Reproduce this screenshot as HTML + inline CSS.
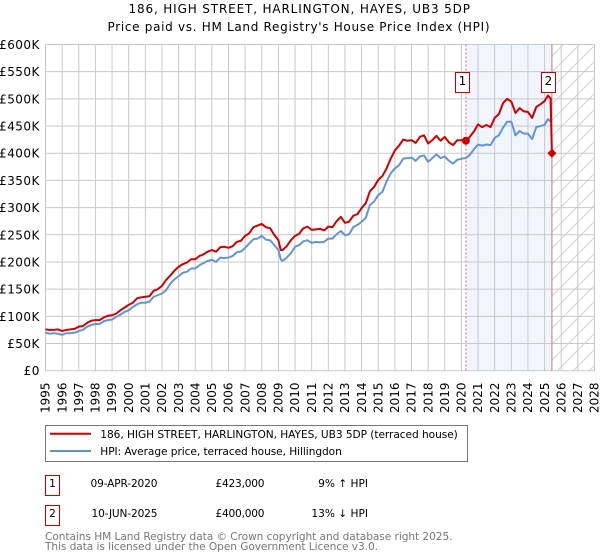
<!DOCTYPE html>
<html>
<head>
<meta charset="utf-8">
<title>186, HIGH STREET, HARLINGTON, HAYES, UB3 5DP</title>
<style>
html,body{margin:0;padding:0;background:#fff;}
svg{display:block;font-family:"DejaVu Sans","Liberation Sans",sans-serif;}
text{fill:#000;}
</style>
</head>
<body>
<svg id="chart" width="600" height="560" viewBox="0 0 600 560" xmlns="http://www.w3.org/2000/svg">
<defs>
<pattern id="hatch" patternUnits="userSpaceOnUse" width="16" height="16">
<path d="M-2 2L2 -2M0 16L16 0M14 18L18 14" stroke="#d2d2d2" stroke-width="1" fill="none"/>
</pattern>
</defs>
<rect width="600" height="560" fill="#fff"/>
<text x="128.5" y="13" font-size="12" textLength="341.5" lengthAdjust="spacing">186, HIGH STREET, HARLINGTON, HAYES, UB3 5DP</text>
<text x="107.5" y="31" font-size="12" textLength="382" lengthAdjust="spacing">Price paid vs. HM Land Registry's House Price Index (HPI)</text>
<g id="bands"></g>
<g id="grid"></g>
<g id="saleLines"></g>
<g id="series"></g>
<g id="markers"></g>
<g id="yLabels"></g>
<g id="xLabels"></g>
<g id="annotations"></g>

<g>
<rect x="45.5" y="425.5" width="422" height="36" fill="#fff" stroke="#777" stroke-width="1"/>
<line x1="50" x2="91" y1="433.7" y2="433.7" stroke="#cc0000" stroke-width="2"/>
<text x="100.3" y="438" font-size="10.6" textLength="357.5" lengthAdjust="spacing">186, HIGH STREET, HARLINGTON, HAYES, UB3 5DP (terraced house)</text>
<line x1="50" x2="91" y1="451" y2="451" stroke="#6090d0" stroke-width="2"/>
<text x="100.3" y="455" font-size="10.6" textLength="241.5" lengthAdjust="spacing">HPI: Average price, terraced house, Hillingdon</text>
</g>

<g font-size="10.6">
<rect x="45.5" y="475.5" width="14" height="20" fill="#fff" stroke="#c00000" stroke-width="1"/>
<text x="52.5" y="487" text-anchor="middle">1</text>
<text x="90.5" y="487" textLength="67" lengthAdjust="spacing">09-APR-2020</text>
<text x="215.5" y="487" textLength="49" lengthAdjust="spacing">£423,000</text>
<text x="368" y="487" text-anchor="end">9% ↑ HPI</text>
<rect x="45.5" y="505.5" width="14" height="20" fill="#fff" stroke="#c00000" stroke-width="1"/>
<text x="52.5" y="517" text-anchor="middle">2</text>
<text x="91.5" y="517" textLength="66" lengthAdjust="spacing">10-JUN-2025</text>
<text x="215.5" y="517" textLength="49" lengthAdjust="spacing">£400,000</text>
<text x="368" y="517" text-anchor="end">13% ↓ HPI</text>
</g>
<text x="45" y="540" font-size="10.6" textLength="407.5" lengthAdjust="spacing" style="fill:#777">Contains HM Land Registry data © Crown copyright and database right 2025.</text>
<text x="45" y="550" font-size="10.6" textLength="333" lengthAdjust="spacing" style="fill:#777">This data is licensed under the Open Government Licence v3.0.</text>
</svg>

<script>
const yearTicks = [1995,1996,1997,1998,1999,2000,2001,2002,2003,2004,2005,2006,2007,2008,2009,2010,2011,2012,2013,2014,2015,2016,2017,2018,2019,2020,2021,2022,2023,2024,2025,2026,2027,2028];
const priceTicks = [0,50,100,150,200,250,300,350,400,450,500,550,600];
const priceTickLabels = ["£0","£50K","£100K","£150K","£200K","£250K","£300K","£350K","£400K","£450K","£500K","£550K","£600K"];

const dates = [1995,1995.25,1995.5,1995.75,1996,1996.25,1996.5,1996.75,1997,1997.25,1997.5,1997.75,1998,1998.25,1998.5,1998.75,1999,1999.25,1999.5,1999.75,2000,2000.25,2000.5,2000.75,2001,2001.25,2001.5,2001.75,2002,2002.25,2002.5,2002.75,2003,2003.25,2003.5,2003.75,2004,2004.25,2004.5,2004.75,2005,2005.25,2005.5,2005.75,2006,2006.25,2006.5,2006.75,2007,2007.25,2007.5,2007.75,2008,2008.25,2008.5,2008.75,2009,2009.14,2009.25,2009.5,2009.75,2010,2010.25,2010.5,2010.75,2011,2011.25,2011.5,2011.75,2012,2012.25,2012.5,2012.75,2013,2013.25,2013.5,2013.75,2014,2014.25,2014.5,2014.75,2015,2015.25,2015.5,2015.75,2016,2016.25,2016.5,2016.75,2017,2017.25,2017.5,2017.75,2018,2018.25,2018.5,2018.75,2019,2019.25,2019.5,2019.75,2020,2020.27,2020.5,2020.75,2021,2021.25,2021.5,2021.75,2022,2022.25,2022.5,2022.75,2023,2023.25,2023.5,2023.75,2024,2024.25,2024.5,2024.75,2025,2025.2,2025.36];

const pricePaid = [76,75,75,76,73,75,76,77,81,82,88,92,93,93,98,101,102,105,111,116,121,125,133,135,136,137,147,150,156,167,175,184,191,196,199,205,205,211,214,219,222,219,227,228,226,229,237,239,248,253,264,267,270,264,262,250,240,222,222,229,240,248,252,262,265,259,260,261,258,265,264,275,283,272,274,285,288,299,308,330,338,351,358,372,390,405,414,425,423,424,419,430,433,418,424,432,423,430,420,415,424,424,423,430,440,453,448,452,448,465,472,492,500,495,474,483,477,476,465,485,490,496,506,501];

const hpiIndex = [70,68,69,68,66,69,69,70,73,75,81,84,86,86,91,93,94,99,103,108,111,117,122,125,125,127,136,139,142,148,160,168,174,180,182,188,188,194,198,202,204,200,208,207,208,211,218,219,226,234,242,243,248,241,240,231,222,205,202,208,216,228,231,238,240,235,237,236,237,243,243,251,257,249,251,264,268,274,281,305,311,323,329,348,363,372,378,390,391,392,386,394,396,384,391,398,391,394,386,381,388,390,391,397,407,416,414,416,415,428,433,447,458,458,433,441,436,436,426,448,450,452,463,458];

const saleDates = [2020.27,2025.44];
const salePrices = [423,400];
const saleLabels = ["1","2"];

const NS = "http://www.w3.org/2000/svg";
const xScale = y => 45.5 + (y - 1995) * (549 / 33);
const yScale = v => 370.7 - v * (326.2 / 600);
function make(tag, attrs, parent, text) {
  const el = document.createElementNS(NS, tag);
  for (const k in attrs) el.setAttribute(k, attrs[k]);
  if (text !== undefined) el.textContent = text;
  parent.appendChild(el);
  return el;
}
const byId = id => document.getElementById(id);
const top0 = yScale(600), bottom0 = yScale(0), right0 = xScale(2028);

const shade = make("rect", {x: xScale(saleDates[0]), y: top0, width: xScale(saleDates[1]) - xScale(saleDates[0]), height: bottom0 - top0, fill: "#f1f5fd"}, byId("bands"));


const hatch = make("rect", {x: xScale(saleDates[1]), y: top0, width: right0 - xScale(saleDates[1]), height: bottom0 - top0, fill: "url(#hatch)"}, byId("bands"));



yearTicks.forEach(t => {
  const line = make("line", {x1: xScale(t), x2: xScale(t), y1: top0, y2: bottom0, stroke: "#c9c9c9", "stroke-width": 1}, byId("grid"));
  
  
  const label = make("text", {transform: "translate(" + (xScale(t) + 4.2) + ",413) rotate(-90)", "font-size": 12}, byId("xLabels"), String(t));
  
  
});
priceTicks.forEach((t, i) => {
  const line = make("line", {x1: 45.5, x2: right0, y1: yScale(t), y2: yScale(t), stroke: "#c9c9c9", "stroke-width": 1}, byId("grid"));
  
  
  const label = make("text", {x: 39.8, y: yScale(t) + 4.5, "font-size": 12, "text-anchor": "end", "letter-spacing": "0.45"}, byId("yLabels"), priceTickLabels[i]);
  
  
});

saleDates.forEach((d, i) => {
  if (i === 1) {
    const solid = make("line", {x1: xScale(d), x2: xScale(d), y1: top0, y2: bottom0, stroke: "#999", "stroke-width": 1}, byId("saleLines"));
    
    
  }
  const dotted = make("line", {x1: xScale(d), x2: xScale(d), y1: top0, y2: bottom0, stroke: "#e0707a", "stroke-width": 1, "stroke-dasharray": "2 2"}, byId("saleLines"));
  
  
});

const toPath = (xs, ys) => xs.map((d, i) => (i ? "L" : "M") + xScale(d).toFixed(2) + " " + yScale(ys[i]).toFixed(2)).join("");

const hpiPath = make("path", {d: toPath(dates, hpiIndex), fill: "none", stroke: "#6494d4", "stroke-width": 2, "stroke-linejoin": "round"}, byId("series"));



const priceXs = dates.concat([saleDates[1]]);
const priceYs = pricePaid.concat([salePrices[1]]);
const pricePath = make("path", {d: toPath(priceXs, priceYs), fill: "none", stroke: "#cc0000", "stroke-width": 2, "stroke-linejoin": "round"}, byId("series"));



saleDates.forEach((d, i) => {
  const cx = xScale(d), cy = yScale(salePrices[i]);
  const marker = i === 0
    ? make("circle", {cx: cx, cy: cy, r: 4, fill: "#cc0000"}, byId("markers"))
    : make("polygon", {points: [[cx - 4.5, cy], [cx, cy - 4.5], [cx + 4.5, cy], [cx, cy + 4.5]].map(p => p.join(",")).join(" "), fill: "#cc0000"}, byId("markers"));
  
  
  const box = make("rect", {x: Math.round(cx) - 10.5, y: 72.5, width: 14, height: 20, fill: "#fff", stroke: "#c00000", "stroke-width": 1}, byId("annotations"));
  
  
  const label = make("text", {x: Math.round(cx) - 3.5, y: 85, "font-size": 12, "text-anchor": "middle"}, byId("annotations"), saleLabels[i]);
  
  
});
</script>
</body>
</html>
